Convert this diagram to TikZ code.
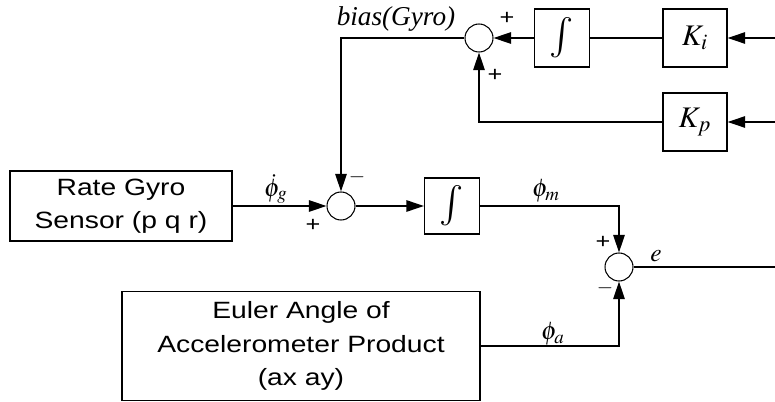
\documentclass[tikz,border=0pt]{standalone}
\usepackage{mathptmx}
\usepackage{fontspec}
\setmainfont[FakeStretch=1.2]{Liberation Sans}
\newfontfamily\tms{Liberation Serif}
\usetikzlibrary{arrows.meta,positioning,calc}

\begin{document}
\begin{tikzpicture}[x=0.02cm, y=-0.02cm, font=\fontsize{13.4}{19}\selectfont, >={Triangle[length=10pt,width=6.5pt]}]
\tikzstyle{blk}=[draw, line width=0.7pt, inner sep=0pt, align=center]
\tikzstyle{sumj}=[draw, circle, line width=0.6pt, minimum size=0.56cm, inner sep=0pt]
\tikzstyle{conn}=[line width=0.85pt]
\tikzstyle{sgn}=[inner sep=0pt, font=\fontsize{12}{12}\selectfont]
\tikzstyle{lbl}=[inner sep=0pt, font=\fontsize{14.5}{14.5}\selectfont]
\tikzstyle{intsym}=[font=\fontsize{23}{23}\selectfont]
\useasboundingbox (0,0) rectangle (775,402);
% sensors
\node[blk, minimum width=4.44cm, minimum height=1.4cm] (gyro) at (121,206) {Rate Gyro\\Sensor (p q r)};
\node[blk, minimum width=7.16cm, minimum height=2.18cm] (euler) at (301,346) {Euler Angle of\\Accelerometer Product\\(ax ay)};
% bias estimator
\node[sumj] (sb) at (479,38) {};
\node[blk, intsym, minimum width=1.1cm, minimum height=1.16cm] (int1) at (562,38) {$\int$};
\node[blk, minimum width=1.28cm, minimum height=1.16cm, font=\fontsize{17}{17}\selectfont] (ki) at (695,38) {$K_i$};
\node[blk, minimum width=1.28cm, minimum height=1.16cm, font=\fontsize{17}{17}\selectfont] (kp) at (695,122) {$K_p$};
% attitude integration
\node[sumj] (sg) at (341,206) {};
\node[blk, intsym, minimum width=1.1cm, minimum height=1.12cm] (int2) at (452,206) {$\int$};
\node[sumj] (se) at (619,267) {};
\coordinate (inKi) at (775,38);
\coordinate (inKp) at (775,122);
\coordinate (eout) at (775,267);
% connections
\draw[->, conn] (inKi) -- (ki);
\draw[conn] (ki) -- (int1);
\draw[->, conn] (int1) -- (sb);
\draw[->, conn] (inKp) -- (kp);
\draw[->, conn] (kp.west) -| (sb.south);
\draw[->, conn] (sb.west) -| (sg.north);
\draw[->, conn] (gyro.east) -- (sg.west);
\draw[->, conn] (sg) -- (int2);
\draw[->, conn] (int2.east) -| (se.north);
\draw[->, conn] (euler.east) -| (se.south);
\draw[conn] (se) -- (eout);
% labels
\node[inner sep=0pt, font=\tms\itshape\fontsize{15.5}{16}\selectfont] (bias) at (396,19) {bias(Gyro)};
\node[lbl] (phig) at (276,189) {$\dot{\phi}_g$};
\node[lbl] (phim) at (546,191) {$\phi_m$};
\node[lbl] (phia) at (553,334) {$\phi_a$};
\node[lbl] (err) at (656,256) {$e$};
\node[sgn] (pb1) at (507,18) {+};
\node[sgn] (pb2) at (495,75) {+};
\node[sgn] (mg) at (357,177) {$-$};
\node[sgn] (pg) at (313,225) {+};
\node[sgn] (pe) at (603,242) {+};
\node[sgn] (me) at (605,288) {$-$};
\end{tikzpicture}
\end{document}
